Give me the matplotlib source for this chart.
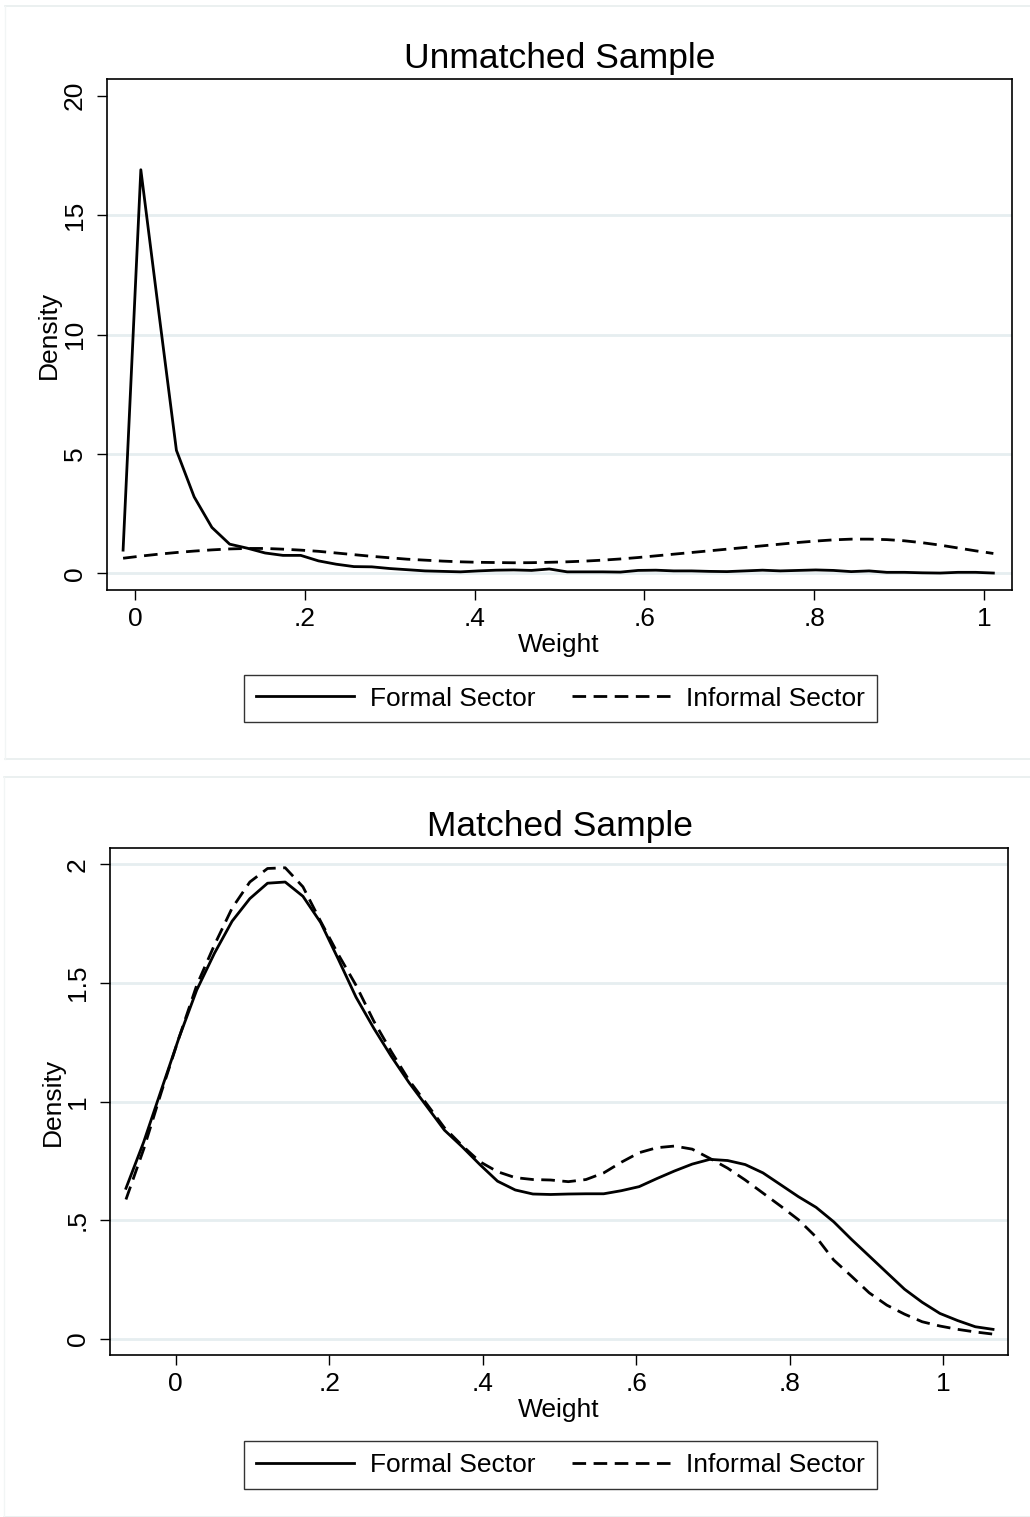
import matplotlib
matplotlib.use('Agg')
import matplotlib.pyplot as plt
from matplotlib.lines import Line2D
import numpy as np

plt.rcParams['font.family'] = ['Liberation Sans', 'DejaVu Sans']

# kernel density estimates (Stata kdensity, 50 points)
weight_unmatched = [-0.0140, 0.0069, 0.0278, 0.0488, 0.0697, 0.0906, 0.1115, 0.1324, 0.1533, 0.1743,
                    0.1952, 0.2161, 0.2370, 0.2579, 0.2789, 0.2998, 0.3207, 0.3416, 0.3625, 0.3834,
                    0.4044, 0.4253, 0.4462, 0.4671, 0.4880, 0.5090, 0.5299, 0.5508, 0.5717, 0.5926,
                    0.6135, 0.6345, 0.6554, 0.6763, 0.6972, 0.7181, 0.7391, 0.7600, 0.7809, 0.8018,
                    0.8227, 0.8436, 0.8646, 0.8855, 0.9064, 0.9273, 0.9482, 0.9692, 0.9901, 1.0110]
formal_unmatched = [0.97, 16.9, 11.0, 5.15, 3.2, 1.92, 1.22, 1.05, 0.85, 0.75,
                    0.75, 0.52, 0.38, 0.28, 0.27, 0.20, 0.15, 0.10, 0.08, 0.06,
                    0.10, 0.13, 0.14, 0.12, 0.18, 0.06, 0.06, 0.06, 0.05, 0.12,
                    0.13, 0.10, 0.10, 0.08, 0.07, 0.10, 0.13, 0.10, 0.12, 0.14,
                    0.12, 0.07, 0.10, 0.04, 0.04, 0.02, 0.01, 0.04, 0.04, 0.01]
informal_unmatched = [0.63, 0.72, 0.80, 0.87, 0.93, 0.98, 1.02, 1.04, 1.04, 1.01,
                      0.97, 0.92, 0.85, 0.78, 0.71, 0.65, 0.59, 0.55, 0.51, 0.48,
                      0.46, 0.45, 0.44, 0.445, 0.46, 0.48, 0.51, 0.55, 0.60, 0.66,
                      0.73, 0.80, 0.87, 0.94, 1.01, 1.08, 1.15, 1.22, 1.29, 1.35,
                      1.40, 1.43, 1.43, 1.41, 1.36, 1.28, 1.18, 1.06, 0.94, 0.83]

weight_matched = [-0.0648, -0.0417, -0.0187, 0.0044, 0.0274, 0.0505, 0.0735, 0.0966, 0.1197, 0.1427,
                  0.1658, 0.1888, 0.2119, 0.2350, 0.2580, 0.2811, 0.3041, 0.3272, 0.3502, 0.3733,
                  0.3964, 0.4194, 0.4425, 0.4655, 0.4886, 0.5117, 0.5347, 0.5578, 0.5808, 0.6039,
                  0.6270, 0.6500, 0.6731, 0.6961, 0.7192, 0.7422, 0.7653, 0.7884, 0.8114, 0.8345,
                  0.8575, 0.8806, 0.9037, 0.9267, 0.9498, 0.9728, 0.9959, 1.0190, 1.0420, 1.0651]
formal_matched = [0.635, 0.83, 1.05, 1.27, 1.47, 1.625, 1.76, 1.855, 1.92, 1.925,
                  1.865, 1.755, 1.60, 1.44, 1.31, 1.19, 1.08, 0.98, 0.88, 0.81,
                  0.735, 0.665, 0.628, 0.611, 0.609, 0.611, 0.612, 0.612, 0.625, 0.642,
                  0.676, 0.708, 0.737, 0.757, 0.752, 0.735, 0.70, 0.65, 0.60, 0.555,
                  0.494, 0.42, 0.35, 0.28, 0.21, 0.155, 0.108, 0.078, 0.052, 0.041]
informal_matched = [0.588, 0.80, 1.04, 1.27, 1.49, 1.66, 1.815, 1.925, 1.982, 1.985,
                    1.905, 1.76, 1.62, 1.49, 1.34, 1.21, 1.09, 0.99, 0.89, 0.815,
                    0.747, 0.705, 0.68, 0.672, 0.67, 0.663, 0.672, 0.70, 0.745, 0.785,
                    0.806, 0.813, 0.80, 0.761, 0.72, 0.67, 0.615, 0.56, 0.503, 0.43,
                    0.333, 0.265, 0.195, 0.143, 0.105, 0.073, 0.055, 0.041, 0.03, 0.021]

x_ticks = [0, 0.2, 0.4, 0.6, 0.8, 1]
x_ticklabels = ['0', '.2', '.4', '.6', '.8', '1']
y_ticks_unmatched = [0, 5, 10, 15, 20]
y_ticklabels_unmatched = ['0', '5', '10', '15', '20']
y_ticks_matched = [0, 0.5, 1, 1.5, 2]
y_ticklabels_matched = ['0', '.5', '1', '1.5', '2']

W, H = 1030, 1517
fig = plt.figure(figsize=(W / 100, H / 100), dpi=100)
fig.patch.set_facecolor('white')

grid_color = '#e6eef0'
dash = (4.9, 2.7)


def px_rect(x0, y0, x1, y1):
    # pixel box (top-left origin) -> figure fraction [left, bottom, width, height]
    return [x0 / W, 1 - y1 / H, (x1 - x0) / W, (y1 - y0) / H]


def draw_panel(rect, xs, formal, informal, xlim, ylim, yticks, yticklabels,
               grid_ticks, title, title_y, legend_y):
    ax = fig.add_axes(rect)
    for t in grid_ticks:
        ax.axhline(t, color=grid_color, lw=2.0, zorder=0)
    l1, = ax.plot(xs, formal, color='black', lw=2.0, label='Formal Sector', zorder=3)
    l2, = ax.plot(xs, informal, color='black', lw=2.0, dashes=dash, label='Informal Sector', zorder=3)
    ax.set_xlim(*xlim)
    ax.set_ylim(*ylim)
    ax.set_xticks(x_ticks)
    ax.set_xticklabels(x_ticklabels)
    ax.set_yticks(yticks)
    ax.set_yticklabels(yticklabels, rotation=90, va='center')
    ax.tick_params(direction='out', length=7.5, width=1.0, labelsize=19, pad=5)
    ax.tick_params(axis='y', pad=7)
    for s in ax.spines.values():
        s.set_linewidth(1.2)
        s.set_color('black')
    ax.set_xlabel('Weight', fontsize=19, labelpad=1)
    ax.set_ylabel('Density', fontsize=19, labelpad=1)
    fig.text(560 / W, 1 - title_y / H, title, fontsize=25.5, ha='center', va='baseline')
    leg = fig.legend(handles=[l1, l2], loc='center', ncol=2,
                     bbox_to_anchor=(560.5 / W, 1 - legend_y / H),
                     fontsize=19, frameon=True, fancybox=False, edgecolor='black',
                     handlelength=3.7, handletextpad=0.6, columnspacing=1.4,
                     borderpad=0.45, borderaxespad=0)
    leg.get_frame().set_linewidth(1.0)
    return ax


draw_panel(px_rect(106.7, 79, 1011.7, 590), weight_unmatched, formal_unmatched, informal_unmatched,
           (-0.0333, 1.0326), (-0.70, 20.7), y_ticks_unmatched, y_ticklabels_unmatched,
           [0, 5, 10, 15], 'Unmatched Sample', 68, 698.5)

draw_panel(px_rect(110, 848.3, 1008.3, 1355), weight_matched, formal_matched, informal_matched,
           (-0.0856, 1.085), (-0.067, 2.067), y_ticks_matched, y_ticklabels_matched,
           y_ticks_matched, 'Matched Sample', 836, 1465)

# pale outer borders of the two graph regions
for (x0, y0, x1, y1) in [(5, 6, 1030, 759), (4, 777, 1030, 1517)]:
    fig.add_artist(Line2D([x0 / W, x1 / W], [1 - y0 / H, 1 - y0 / H], color='#e8eeee', lw=1.2))
    fig.add_artist(Line2D([x0 / W, x1 / W], [1 - y1 / H, 1 - y1 / H], color='#e8eeee', lw=1.2))
    fig.add_artist(Line2D([x0 / W, x0 / W], [1 - y0 / H, 1 - y1 / H], color='#f2f5f5', lw=1.0))

fig.savefig('out.png', dpi=100, facecolor='white')
